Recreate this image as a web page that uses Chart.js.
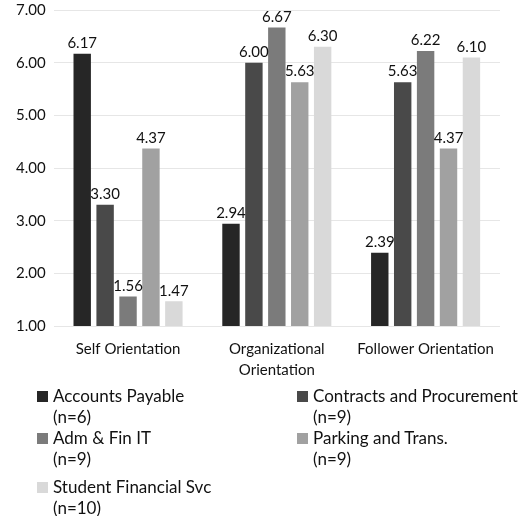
<!DOCTYPE html>
<html>
<head>
<meta charset="utf-8">
<script src="https://cdn.jsdelivr.net/npm/chart.js@4.4.1/dist/chart.umd.min.js"></script>
<style>
  body { margin: 0; background: #fff; font-family: Lato, "Open Sans", sans-serif; }
  #wrap { position: relative; width: 527px; height: 393px; margin-top: -7px; }
  #legend { position: relative; width: 527px; height: 136px; margin-top: -6px; font-size: 17px; color: #111; }
  .item { position: absolute; line-height: 20.5px; white-space: nowrap; }
  .sw { position: absolute; left: -16px; top: 5px; width: 11px; height: 11px; }
</style>
</head>
<body>
<div id="wrap"><canvas id="chart"></canvas></div>
<div id="legend"></div>
<script>
const categories = ['Self Orientation', ['Organizational', 'Orientation'], 'Follower Orientation'];
const seriesNames = ['Accounts Payable', 'Contracts and Procurement', 'Adm & Fin IT', 'Parking and Trans.', 'Student Financial Svc'];
const seriesN = ['(n=6)', '(n=9)', '(n=9)', '(n=9)', '(n=10)'];
const accountsPayable = [6.17, 2.94, 2.39];
const contractsProcurement = [3.30, 6.00, 5.63];
const admFinIT = [1.56, 6.67, 6.22];
const parkingTrans = [4.37, 5.63, 4.37];
const studentFinancial = [1.47, 6.30, 6.10];
const yTicks = [1, 2, 3, 4, 5, 6, 7];

const colors = ['#262626', '#494949', '#7b7b7b', '#a1a1a1', '#d9d9d9'];
const values = [accountsPayable, contractsProcurement, admFinIT, parkingTrans, studentFinancial];

const valueLabels = {
  id: 'valueLabels',
  afterDatasetsDraw(chart) {
    const ctx = chart.ctx;
    ctx.save();
    ctx.font = '15px Lato, "Open Sans", sans-serif';
    ctx.fillStyle = '#111';
    ctx.textAlign = 'center';
    ctx.textBaseline = 'bottom';
    chart.data.datasets.forEach((ds, i) => {
      chart.getDatasetMeta(i).data.forEach((bar, j) => {
        ctx.fillText(ds.data[j].toFixed(2), bar.x, bar.y - 3);
      });
    });
    ctx.restore();
  }
};

new Chart(document.getElementById('chart'), {
  type: 'bar',
  data: {
    labels: categories,
    datasets: seriesNames.map((name, i) => ({
      label: name,
      data: values[i],
      backgroundColor: colors[i],
      borderWidth: 0,
      categoryPercentage: 0.77,
      barPercentage: 0.76
    }))
  },
  options: {
    responsive: true,
    maintainAspectRatio: false,
    animation: false,
    layout: { padding: { top: 2, right: 27, left: 8 } },
    plugins: { legend: { display: false }, tooltip: { enabled: false } },
    scales: {
      x: {
        grid: { display: false },
        border: { display: false },
        ticks: { color: '#111', padding: 5, font: { size: 15, family: 'Lato', lineHeight: 1.4 }, maxRotation: 0 }
      },
      y: {
        min: 1,
        max: 7,
        afterBuildTicks: axis => { axis.ticks = yTicks.map(v => ({ value: v })); },
        grid: { color: '#e6e6e6', drawTicks: false },
        border: { display: false },
        ticks: { color: '#111', padding: 8, font: { size: 15, family: 'Lato' }, callback: v => v.toFixed(2) }
      }
    }
  },
  plugins: [valueLabels]
});

// legend: two columns, label and count on two lines
const legend = document.getElementById('legend');
const colX = [53, 313];
const rowY = [6, 48, 97];
seriesNames.forEach((name, i) => {
  const el = document.createElement('div');
  el.className = 'item';
  el.style.left = colX[i % 2] + 'px';
  el.style.top = rowY[Math.floor(i / 2)] + 'px';
  el.innerHTML = '<span class="sw" style="background:' + colors[i] + '"></span>' + name + '<br>' + seriesN[i];
  legend.appendChild(el);
});
</script>
</body>
</html>
